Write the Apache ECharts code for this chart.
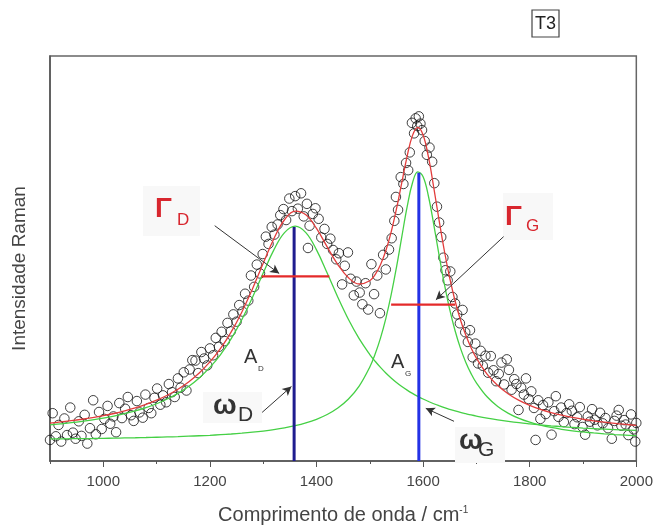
<!DOCTYPE html>
<html>
<head>
<meta charset="utf-8">
<title>Raman T3</title>
<script src="https://cdn.jsdelivr.net/npm/echarts@6/dist/echarts.min.js"></script>
<style>
html, body { margin: 0; padding: 0; background: #fff; }
#main { width: 656px; height: 530px; }
</style>
</head>
<body>
<div id="main"></div>
<script>
// measured spectrum (x = cm-1, y = intensity, arbitrary units)
var ramanPoints = [
  [900,5.2],[905,11.8],[911,6.1],[916,8.9],[921,4.8],[927,10.5],[932,6.4],[938,13.2],[943,7.0],[948,5.5],
  [954,9.8],[959,6.2],[965,11.4],[970,4.3],[975,8.1],[981,15.0],[986,6.6],[992,12.1],[997,7.9],[1002,10.4],
  [1008,13.6],[1013,9.2],[1019,11.0],[1024,7.1],[1030,14.3],[1035,10.6],[1041,12.9],[1046,15.8],[1052,11.3],[1057,9.9],
  [1063,14.8],[1068,12.0],[1074,10.7],[1079,16.4],[1085,13.1],[1090,11.8],[1096,15.6],[1101,17.9],[1107,13.9],
  [1112,16.2],[1118,14.5],[1123,19.0],[1129,17.0],[1134,15.8],[1140,20.4],[1145,18.1],[1151,21.9],[1156,17.4],[1162,22.6],
  [1167,24.9],[1173,24.8],[1178,21.7],[1184,26.9],[1189,25.3],[1195,23.6],[1200,27.8],
  [1206,26.1],[1211,30.4],[1217,28.2],[1222,31.9],[1228,29.6],[1233,34.1],[1239,32.0],[1244,36.2],[1250,34.4],[1255,38.5],
  [1261,36.9],[1266,41.3],[1272,39.6],[1277,45.8],[1283,43.0],[1288,48.5],[1294,46.3],[1299,51.1],[1305,55.4],
  [1310,53.6],[1316,57.8],[1321,55.9],[1327,58.4],[1332,60.7],[1338,62.2],[1343,59.5],[1349,64.8],[1354,61.7],[1360,65.4],[1365,62.3],
  [1371,66.1],[1376,60.4],[1382,63.5],[1384,52.6],[1387,58.1],[1393,61.0],[1398,62.4],[1404,59.8],[1409,55.2],[1415,57.3],[1420,53.6],
  [1426,54.9],[1431,52.1],[1437,49.8],[1442,51.3],[1448,43.6],[1453,48.2],[1459,51.5],[1464,45.0],[1470,40.9],[1475,44.3],
  [1481,41.6],[1486,38.7],[1492,43.9],[1497,37.4],[1503,48.6],[1508,41.2],[1514,45.8],[1519,36.5],
  [1525,50.9],[1530,47.3],[1536,52.2],[1541,55.0],[1546,59.3],[1549,65.2],[1553,62.0],[1558,70.1],[1563,68.4],[1568,73.6],
  [1572,71.8],[1575,76.2],[1579,83.5],[1583,80.9],[1586,84.6],[1589,82.7],[1592,85.1],[1595,83.3],[1598,81.7],[1603,79.0],
  [1607,75.6],[1612,77.4],[1617,73.9],[1621,68.6],[1626,62.8],[1630,58.9],[1634,55.3],[1638,50.2],[1642,47.1],[1646,44.6],
  [1651,46.8],[1655,40.5],[1660,38.9],[1664,36.2],[1669,34.0],[1674,37.3],
  [1679,31.8],[1684,29.4],[1688,32.3],[1693,25.6],[1698,29.0],[1703,24.1],[1708,27.2],[1712,23.5],[1717,26.0],[1722,21.8],
  [1727,25.9],[1732,22.4],[1737,19.7],[1742,21.5],[1747,24.3],[1752,18.9],[1757,25.1],[1761,22.5],[1766,17.6],[1771,20.2],
  [1775,19.0],[1779,12.6],[1784,18.1],[1789,16.4],[1793,20.4],[1798,15.3],[1803,17.2],[1808,13.1],[1811,5.2],[1816,15.0],
  [1820,10.4],[1825,13.8],[1830,11.6],[1835,14.5],[1841,6.5],[1846,12.3],[1849,16.0],[1854,10.9],[1859,13.2],[1864,9.6],
  [1869,11.8],[1874,14.0],[1879,12.4],[1884,9.1],[1889,10.8],[1894,13.3],[1899,8.4],[1904,6.5],[1909,11.0],[1913,9.7],
  [1917,12.8],[1922,10.2],[1927,8.8],[1932,11.9],[1937,9.3],[1942,10.6],[1947,8.1],[1954,5.5],[1959,9.9],[1963,11.2],
  [1967,12.6],[1972,8.7],[1977,10.1],[1980,9.0],[1985,6.4],[1990,11.5],[1995,7.8],[1998,4.8],[2000,9.4]
];

// fitted curves
var curveX = [900,920,940,960,980,1000,1020,1040,1060,1080,1100,1120,1140,1160,1180,1200,1220,1240,1260,1280,
  1300,1320,1340,1360,1380,1400,1420,1440,1460,1480,1500,
  1510,1520,1530,1540,1550,1560,1570,1580,1590,1600,1610,1620,1630,1640,1650,1660,1670,1680,1690,1700,
  1720,1740,1760,1780,1800,1820,1840,1860,1880,1900,1920,1940,1960,1980,2000];
var bandD = [8.91,9.17,9.45,9.78,10.16,10.59,11.09,11.68,12.36,13.17,14.14,15.30,16.70,18.41,20.52,23.11,26.29,30.21,34.94,40.44,
  46.40,52.12,56.39,58.0,56.39,52.12,46.40,40.44,34.94,30.21,26.29,
  24.62,23.11,21.74,20.52,19.41,18.41,17.51,16.70,15.97,15.30,14.70,14.14,13.64,13.17,12.75,12.36,12.0,11.68,11.37,11.09,
  10.59,10.16,9.78,9.45,9.17,8.91,8.68,8.48,8.30,8.14,8.0,7.87,7.75,7.65,7.55];
var bandG = [5.44,5.47,5.50,5.53,5.56,5.60,5.64,5.69,5.74,5.80,5.87,5.94,6.02,6.12,6.23,6.35,6.50,6.67,6.87,7.11,
  7.40,7.75,8.18,8.72,9.41,10.30,11.47,13.07,15.29,18.49,23.22,
  26.41,30.34,35.17,41.00,47.82,55.34,62.73,68.64,71.41,70.19,65.37,58.37,50.77,43.62,37.38,32.15,27.88,24.41,21.58,19.30,
  15.85,13.46,11.76,10.51,9.57,8.85,8.28,7.83,7.46,7.17,6.92,6.71,6.53,6.38,6.25];
var fitSum = [9.35,9.64,9.95,10.31,10.72,11.19,11.73,12.37,13.10,13.97,15.01,16.24,17.72,19.53,21.75,24.46,27.79,31.88,36.81,42.55,
  48.80,54.87,59.57,61.72,60.80,57.42,52.87,48.51,45.23,43.70,44.51,
  46.03,48.45,51.91,56.52,62.23,68.75,75.24,80.34,82.38,80.49,75.07,67.51,59.41,51.79,45.13,39.51,34.88,31.09,27.95,25.39,
  21.44,18.62,16.54,14.96,13.74,12.76,11.96,11.31,10.76,10.31,9.92,9.58,9.28,9.03,8.80];

// peak positions (omega), peak heights, widths (gamma)
var peakPos = [1358, 1592];
var peakTop = [57.8, 71.2];
var widthD = [1297, 1424, 45.6];
var widthG = [1540, 1660, 38.6];

// annotation arrows [from, to]
var arrows = [
  [[1209, 58.1], [1330, 46.3]],
  [[1751, 55.4], [1624, 39.8]],
  [[1298, 12.0], [1353, 18.4]],
  [[1658, 9.8], [1605, 13.0]]
];

var majorTicks = [1000, 1200, 1400, 1600, 1800, 2000];
var minorTicks = [900, 1100, 1300, 1500, 1700, 1900];

var FONT = 'Liberation Sans';

function zip(xs, ys) {
  var out = [];
  for (var i = 0; i < xs.length; i++) out.push([xs[i], ys[i]]);
  return out;
}

function txt(s, x, y, size, color, weight) {
  return {
    type: 'text', z: 100,
    style: { text: s, x: x, y: y, font: (weight || 'normal') + ' ' + size + 'px "' + FONT + '"', fill: color,
      textAlign: 'left', textVerticalAlign: 'middle' }
  };
}
function box(x, y, w, h) {
  return { type: 'rect', z: 1, shape: { x: x, y: y, width: w, height: h },
    style: { fill: '#f8f8f8' } };
}

var myChart = echarts.init(document.getElementById('main'));

var option = {
  animation: false,
  textStyle: { fontFamily: FONT },
  grid: { left: 50, right: 18, top: 56, bottom: 66, show: true, borderColor: '#666', borderWidth: 1.5 },
  xAxis: [
    {
      type: 'value', min: 900, max: 2000, position: 'bottom',
      axisLine: { show: true, lineStyle: { color: '#555', width: 1.5 } },
      axisTick: { show: true, inside: false, length: 6, customValues: majorTicks, lineStyle: { color: '#555' } },
      axisLabel: {
        customValues: majorTicks, margin: 13, fontSize: 15, color: '#444', fontFamily: FONT,
        formatter: function (v) { return String(v); }
      },
      splitLine: { show: false },
      name: 'Comprimento de onda / cm{sup|-1}',
      nameLocation: 'middle',
      nameGap: 44,
      nameTextStyle: {
        fontSize: 20, color: '#444', fontFamily: FONT,
        rich: { sup: { fontSize: 10, color: '#444', fontFamily: FONT, verticalAlign: 'top' } }
      }
    },
    {
      type: 'value', min: 900, max: 2000, position: 'bottom',
      axisLine: { show: false },
      axisTick: { show: true, inside: false, length: 3, customValues: minorTicks, lineStyle: { color: '#555' } },
      axisLabel: { show: false },
      splitLine: { show: false }
    }
  ],
  yAxis: {
    type: 'value', min: 0, max: 100,
    axisLine: { show: true, lineStyle: { color: '#555', width: 1.5 } },
    axisTick: { show: false },
    axisLabel: { show: false },
    splitLine: { show: false },
    name: 'Intensidade Raman',
    nameLocation: 'middle',
    nameGap: 21,
    nameTextStyle: { fontSize: 19, color: '#444', fontFamily: FONT, padding: [0, 0, 0, -20] }
  },
  series: [
    {
      type: 'scatter', data: ramanPoints, symbol: 'circle', symbolSize: 9.5, z: 2,
      itemStyle: { color: 'rgba(255,255,255,0)', borderColor: '#111', borderWidth: 1 }
    },
    {
      type: 'line', data: zip(curveX, bandD), smooth: 0.4, showSymbol: false, z: 3,
      lineStyle: { color: '#45d045', width: 1.3 }
    },
    {
      type: 'line', data: zip(curveX, bandG), smooth: 0.4, showSymbol: false, z: 3,
      lineStyle: { color: '#45d045', width: 1.3 }
    },
    {
      type: 'line', data: zip(curveX, fitSum), smooth: 0.4, showSymbol: false, z: 4,
      lineStyle: { color: '#e23c3c', width: 1.3 },
      markLine: {
        silent: true, symbol: ['none', 'arrow'], symbolSize: [7, 9],
        lineStyle: { color: '#333', width: 1, type: 'solid' },
        label: { show: false },
        data: arrows.map(function (a) { return [{ coord: a[0] }, { coord: a[1] }]; })
      }
    },
    {
      type: 'line', data: [[peakPos[0], 0], [peakPos[0], peakTop[0]]], showSymbol: false, z: 5,
      lineStyle: { color: '#1f1c8f', width: 3 }
    },
    {
      type: 'line', data: [[peakPos[1], 0], [peakPos[1], peakTop[1]]], showSymbol: false, z: 5,
      lineStyle: { color: '#2432e6', width: 3 }
    },
    {
      type: 'line', data: [[widthD[0], widthD[2]], [widthD[1], widthD[2]]], showSymbol: false, z: 5,
      lineStyle: { color: '#e42a2a', width: 2.2 }
    },
    {
      type: 'line', data: [[widthG[0], widthG[2]], [widthG[1], widthG[2]]], showSymbol: false, z: 5,
      lineStyle: { color: '#e42a2a', width: 2.2 }
    }
  ],
  graphic: [
    { type: 'rect', z: 100, shape: { x: 532, y: 10, width: 27, height: 27 },
      style: { fill: '#fff', stroke: '#444', lineWidth: 1.2 } },
    { type: 'text', z: 101,
      style: { text: 'T3', x: 545.5, y: 24, font: '18px "' + FONT + '"', fill: '#222',
        textAlign: 'center', textVerticalAlign: 'middle' } },

    box(143, 186, 57, 50),
    txt('\u0393', 155, 209, 28, '#d8262e', 'bold'),
    txt('D', 177, 220, 17, '#d8262e'),

    box(503, 193, 50, 47),
    txt('\u0393', 505, 217, 28, '#d8262e', 'bold'),
    txt('G', 526, 226, 17, '#d8262e'),

    box(203, 392, 59, 31),
    txt('\u03c9', 213, 406, 28, '#333', 'bold'),
    txt('D', 238, 415, 21, '#333'),

    box(455, 427, 50, 36),
    txt('\u03c9', 459, 441, 28, '#333', 'bold'),
    txt('G', 478, 450, 21, '#333'),

    txt('A', 244, 357, 20, '#333'),
    txt('D', 258, 369, 8, '#333'),
    txt('A', 391, 362, 20, '#333'),
    txt('G', 405, 374, 8, '#333')
  ]
};

myChart.setOption(option);
window.addEventListener('resize', function () {
  myChart.resize();
});
</script>
</body>
</html>
